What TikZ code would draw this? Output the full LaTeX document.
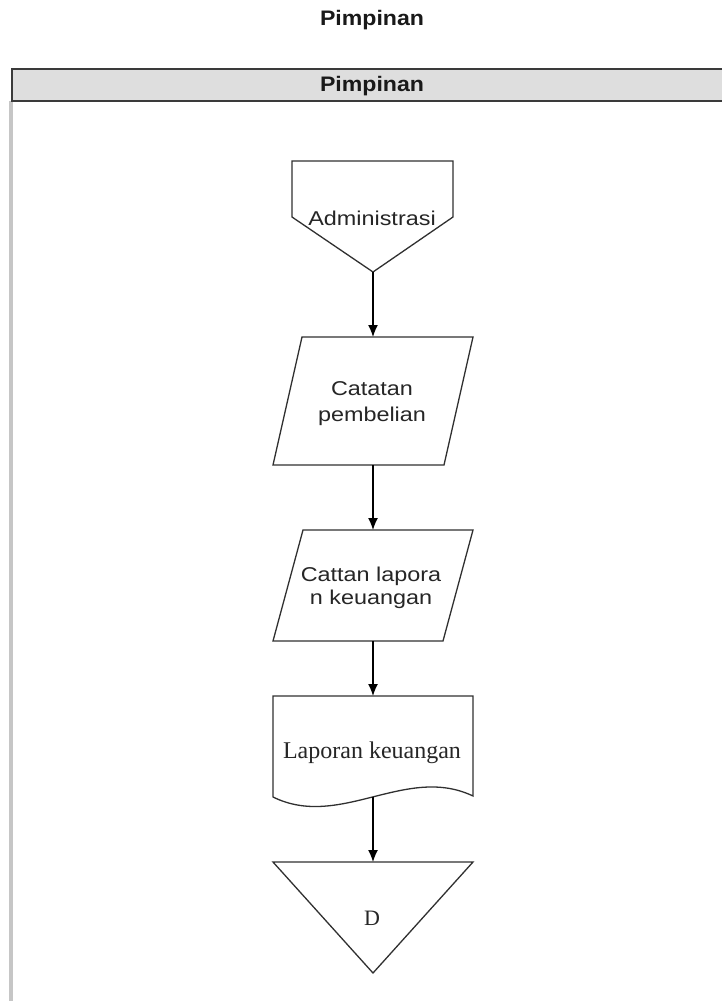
\documentclass[tikz,border=0pt]{standalone}
\usepackage{fontspec}
\setmainfont{Liberation Serif}
\newfontfamily\lanebold[FakeStretch=1.1]{Liberation Sans Bold}
\newfontfamily\shapesans[FakeStretch=1.17]{Liberation Sans}
\newfontfamily\shapeserif{Liberation Serif}
\usetikzlibrary{arrows.meta}
\definecolor{headfill}{HTML}{DEDEDE}
\definecolor{headline}{HTML}{3A3A3A}
\definecolor{laneline}{HTML}{C6C6C6}
\definecolor{shapeline}{HTML}{303030}
\tikzset{
  shapeout/.style={draw=shapeline, line width=1.3pt, fill=white},
  sanstext/.style={font=\shapesans\fontsize{20}{26}\selectfont, text=black!85, align=center, inner sep=0pt},
  seriftext/.style={font=\shapeserif\fontsize{24}{28}\selectfont, text=black!85, align=center, inner sep=0pt},
  titletext/.style={font=\lanebold\fontsize{21}{24}\selectfont, text=black!90, inner sep=0pt},
  arr/.style={draw=black, line width=1.4pt, -{Latex[length=12pt,width=10pt]}}
}
\begin{document}
\begin{tikzpicture}[x=1pt,y=-1pt]
\useasboundingbox (0,0) rectangle (722,1001);
% title
\node[titletext] (title) at (372,20) {Pimpinan};
% lane
\draw[laneline, line width=4pt] (11,101) -- (11,1003);
\draw[fill=headfill, draw=headline, line width=2pt] (12,69) rectangle (730,101);
\node[titletext] (lanehead) at (372,86) {Pimpinan};
% off-page connector: Administrasi
\draw[shapeout] (292,161) -- (453,161) -- (453,217) -- (373,272) -- (292,217) -- cycle;
\node[sanstext] (adm) at (372,218) {Administrasi};
\coordinate (admbot) at (373,272);
% parallelogram 1
\draw[shapeout] (302,337) -- (473,337) -- (444,465) -- (273,465) -- cycle;
\node[sanstext] (cat1) at (372,404) {Catatan\\pembelian};
\coordinate (p1top) at (373,337);
\coordinate (p1bot) at (373,465);
% parallelogram 2
\draw[shapeout] (303,530) -- (473,530) -- (443,641) -- (273,641) -- cycle;
\node[sanstext, font=\shapesans\fontsize{20}{23}\selectfont] (cat2) at (371,588) {Cattan lapora\\n keuangan};
\coordinate (p2top) at (373,530);
\coordinate (p2bot) at (373,641);
% document
\draw[shapeout] (273,696) -- (473,696) -- (473,796)
  .. controls (406,764) and (340,830) .. (273,797) -- cycle;
\node[seriftext] (lap) at (372,753) {Laporan keuangan};
\coordinate (doctop) at (373,696);
\coordinate (docbot) at (373,797);
% off-page / storage triangle D
\draw[shapeout] (273,862) -- (473,862) -- (373,973) -- cycle;
\node[seriftext, font=\shapeserif\fontsize{22}{26}\selectfont] (dnode) at (372,918) {D};
\coordinate (tritop) at (373,862);
% connectors
\draw[arr] (admbot) -- (p1top);
\draw[arr] (p1bot) -- (p2top);
\draw[arr] (p2bot) -- (doctop);
\draw[arr] (docbot) -- (tritop);
\end{tikzpicture}
\end{document}
